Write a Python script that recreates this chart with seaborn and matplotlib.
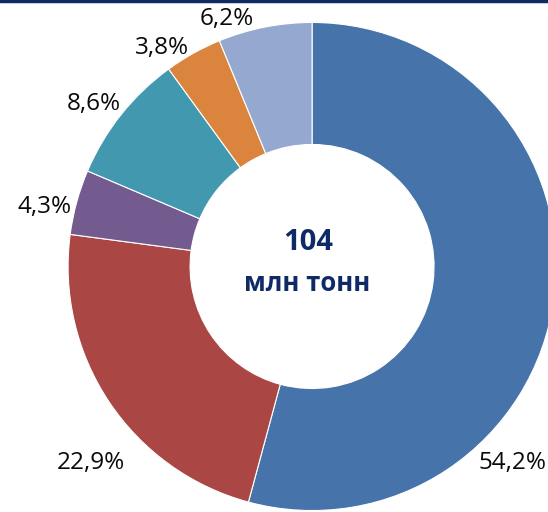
import matplotlib
matplotlib.use("Agg")
import matplotlib.pyplot as plt
import seaborn as sns

shares = [54.2, 22.9, 4.3, 8.6, 3.8, 6.2]
labels = ["54,2%", "22,9%", "4,3%", "8,6%", "3,8%", "6,2%"]
colors = ["#4674AA", "#AA4744", "#735A8F", "#4299AF", "#DB843E", "#95A9D0"]
total_value = "104"
total_unit = "млн тонн"

# label placement (data units, pie radius = 1)
label_pos = [(0.82, -0.805), (-0.906, -0.805), (-1.098, 0.244),
             (-0.893, 0.666), (-0.615, 0.895), (-0.348, 1.014)]

sns.set_theme(style="white")
plt.rcParams["font.family"] = ["Open Sans", "DejaVu Sans"]

fig = plt.figure(figsize=(5.48, 5.12), dpi=100)
ax = fig.add_axes([0, 0, 1, 1])
ax.pie(shares, colors=sns.color_palette(colors), startangle=90, counterclock=False,
       radius=1, wedgeprops=dict(width=0.5, edgecolor="white", linewidth=0.8))
ax.set_xlim(-1.279, 0.967)
ax.set_ylim(-1.006, 1.092)
ax.set_aspect("auto")
ax.axis("off")

for (x, y), t in zip(label_pos, labels):
    ax.text(x, y, t, ha="center", va="center", fontsize=17.5, color="#0a0a0a")

navy = "#0E2B68"
ax.text(-0.016, 0.098, total_value, ha="center", va="center", fontsize=21,
        fontweight="bold", color=navy)
ax.text(-0.02, -0.07, total_unit, ha="center", va="center", fontsize=18.5,
        fontweight="bold", color=navy)

fig.add_artist(plt.Line2D([0, 1], [0.998, 0.998], transform=fig.transFigure,
                          color="#0E2B68", linewidth=2.5))

fig.savefig("out.png", dpi=100)
